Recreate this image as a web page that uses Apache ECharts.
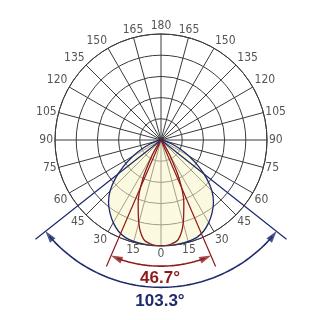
<!DOCTYPE html>
<html>
<head>
<meta charset="utf-8">
<script src="https://cdn.jsdelivr.net/npm/echarts@6/dist/echarts.min.js"></script>
<style>html,body{margin:0;padding:0;background:#fff}#c{width:320px;height:320px}</style>
</head>
<body>
<div id="c"></div>
<script>
// Angles (degrees from nadir) and relative intensities (%)
const angles        = [0, 5, 10, 15, 20, 25, 30, 35, 40, 45, 50, 55, 60, 65, 70, 75, 80, 85, 90];
const wideIntensity = [100, 100, 99.5, 99, 98, 95, 90, 84, 77, 68, 56, 43, 31, 20, 11, 5, 2, 0.5, 0];
const narrowIntensity = [100, 99, 95, 81, 63, 41, 17, 5, 1, 0, 0, 0, 0, 0, 0, 0, 0, 0, 0];
// Beam angles (full width at half maximum)
const beamAngles = [46.7, 103.3];   // [narrow, wide]

const NAVY = '#1f2a6e';
const RED = '#8e1b1b';
const FONT = "'Liberation Sans Narrow','DejaVu Sans Condensed',sans-serif";
const CENTER = [161, 140], R = 106;

function mirror(vals) {
  const out = [];
  for (let i = angles.length - 1; i >= 1; i--) out.push([vals[i], 360 - angles[i]]);
  out.push([vals[0], 0]);
  for (let i = 1; i < angles.length; i++) out.push([vals[i], angles[i]]);
  return out;
}
function arc(r, half) {
  const pts = [];
  for (let a = -half; a <= half + 1e-9; a += half / 40) pts.push([r, (a + 360) % 360]);
  return pts;
}

const narrowHalf = beamAngles[0] / 2, wideHalf = beamAngles[1] / 2;
const redArcR = 119, blueArcR = 139;

const chart = echarts.init(document.getElementById('c'));
chart.setOption({
  animation: false,
  polar: [
    { center: CENTER, radius: R },
    { center: CENTER, radius: R * 1.6 }
  ],
  angleAxis: [{
    polarIndex: 0,
    type: 'value', min: 0, max: 360, interval: 15, startAngle: 270, clockwise: true,
    axisLine: { show: true, lineStyle: { color: '#3a3a3a', width: 1 } },
    axisTick: { show: false },
    splitLine: { show: true, lineStyle: { color: '#3a3a3a', width: 1 } },
    axisLabel: {
      margin: 2, color: '#555', fontFamily: FONT, fontSize: 12,
      formatter: v => (v >= 360 ? '' : String(v <= 180 ? v : 360 - v))
    }
  }, {
    polarIndex: 1,
    type: 'value', min: 0, max: 360, startAngle: 270, clockwise: true,
    axisLine: { show: false }, axisTick: { show: false }, axisLabel: { show: false },
    splitLine: { show: false }
  }],
  radiusAxis: [{
    polarIndex: 0,
    type: 'value', min: 0, max: 100, interval: 20,
    axisLine: { show: false }, axisTick: { show: false }, axisLabel: { show: false },
    splitLine: { show: true, lineStyle: { color: '#3a3a3a', width: 1 } }
  }, {
    polarIndex: 1,
    type: 'value', min: 0, max: 160,
    axisLine: { show: false }, axisTick: { show: false }, axisLabel: { show: false },
    splitLine: { show: false }
  }],
  series: [
    { type: 'line', coordinateSystem: 'polar', polarIndex: 0, data: mirror(wideIntensity), smooth: 0.3,
      symbol: 'none', lineStyle: { color: NAVY, width: 1.3 },
      areaStyle: { color: 'rgb(250,244,200)', opacity: 0.55 }, z: 2 },
    { type: 'line', coordinateSystem: 'polar', polarIndex: 0, data: mirror(narrowIntensity), smooth: 0.3,
      symbol: 'none', lineStyle: { color: RED, width: 1.3 }, z: 3 },
    // beam angle lines
    { type: 'line', coordinateSystem: 'polar', polarIndex: 1, clip: false, symbol: 'none',
      data: [[151, wideHalf], [0, wideHalf], [151, 360 - wideHalf]],
      lineStyle: { color: NAVY, width: 1.2 }, z: 4 },
    { type: 'line', coordinateSystem: 'polar', polarIndex: 1, clip: false, symbol: 'none',
      data: [[130, narrowHalf], [0, narrowHalf], [130, 360 - narrowHalf]],
      lineStyle: { color: RED, width: 1.2 }, z: 4 },
    // arcs
    { type: 'line', coordinateSystem: 'polar', polarIndex: 1, clip: false, symbol: 'none',
      data: arc(redArcR, narrowHalf - 3), lineStyle: { color: RED, width: 1.6 }, z: 4 },
    { type: 'line', coordinateSystem: 'polar', polarIndex: 1, clip: false, symbol: 'none',
      data: arc(blueArcR, wideHalf - 2.5), lineStyle: { color: NAVY, width: 1.6 }, z: 4 },
    // arrow heads
    { type: 'scatter', coordinateSystem: 'polar', polarIndex: 1, clip: false, symbol: 'triangle',
      symbolSize: [7, 12], itemStyle: { color: RED }, z: 5,
      data: [
        { value: [redArcR, narrowHalf - 2.6], symbolRotate: 90 - narrowHalf },
        { value: [redArcR, 360 - narrowHalf + 2.6], symbolRotate: -(90 - narrowHalf) }
      ] },
    { type: 'scatter', coordinateSystem: 'polar', polarIndex: 1, clip: false, symbol: 'triangle',
      symbolSize: [7, 12], itemStyle: { color: NAVY }, z: 5,
      data: [
        { value: [blueArcR, wideHalf - 2.2], symbolRotate: 90 - wideHalf },
        { value: [blueArcR, 360 - wideHalf + 2.2], symbolRotate: -(90 - wideHalf) }
      ] }
  ],
  graphic: [
    { type: 'text', left: 'center', top: 270, style: { text: beamAngles[0].toFixed(1) + '°',
      fill: RED, font: "bold 17px 'Liberation Sans','DejaVu Sans',sans-serif" } },
    { type: 'text', left: 'center', top: 293, style: { text: beamAngles[1].toFixed(1) + '°',
      fill: NAVY, font: "bold 17px 'Liberation Sans','DejaVu Sans',sans-serif" } }
  ]
});
</script>
</body>
</html>
